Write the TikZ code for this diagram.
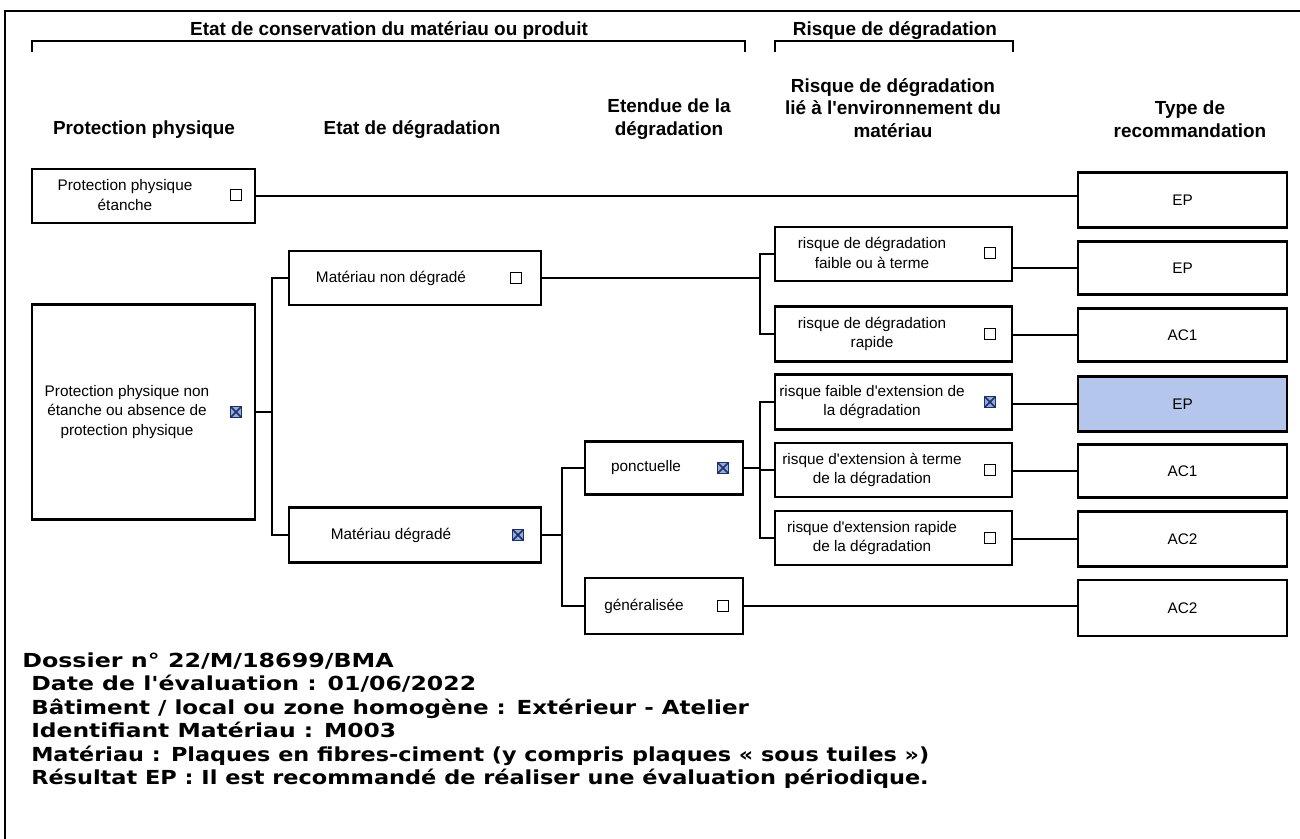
\documentclass[tikz,border=0pt]{standalone}
\usepackage{fontspec}
\setmainfont{Liberation Sans}
\newfontfamily\bottomfont{DejaVu Sans}
\definecolor{xnavy}{RGB}{28,48,110}
\definecolor{xfill}{RGB}{150,172,214}
\definecolor{hilite}{RGB}{180,198,236}
\newcommand\q{\textquotesingle}
\begin{document}
\begin{tikzpicture}[x=0.75pt,y=-0.75pt,
  bx/.style 2 args={draw, line width=1.8pt, inner sep=0pt, minimum width=#1*0.75pt, minimum height=#2*0.75pt},
  txt/.style={font=\fontsize{11.5}{14.5}\selectfont, align=center, inner sep=0pt},
  hdr/.style={font=\fontsize{14.2}{17}\selectfont\bfseries, align=center, inner sep=0pt},
  btxt/.style={font=\bottomfont\bfseries\fontsize{14.5}{17}\selectfont, anchor=base west, inner sep=0pt},
  chk/.style={draw, line width=1.1pt, minimum size=8pt, inner sep=0pt},
  xchk/.style={chk, draw=xnavy, fill=xfill, path picture={\draw[xnavy, line width=1.3pt] (path picture bounding box.south west) -- (path picture bounding box.north east) (path picture bounding box.north west) -- (path picture bounding box.south east);}},
  con/.style={line width=1.6pt},
  brk/.style={line width=1.6pt}
]
\useasboundingbox (0,0) rectangle (1300,839);
% frame
\draw[line width=1.4pt] (5,839) -- (5,11) -- (1300,11);
% group headers
\node[hdr] (g1) at (389,31) {Etat de conservation du matériau ou produit};
\node[hdr] (g2) at (895,31) {Risque de dégradation};
\draw[brk] (32,52) -- (32,41) -- (745,41) -- (745,52);
\draw[brk] (775,52) -- (775,41) -- (1013,41) -- (1013,52);
% column headers
\node[hdr] (h1) at (144,130) {Protection physique};
\node[hdr] (h2) at (412,130) {Etat de dégradation};
\node[hdr] (h3) at (669,119) {Etendue de la\\dégradation};
\node[hdr] (h4) at (893,108) {Risque de dégradation\\lié à l\q environnement du\\matériau};
\node[hdr] (h5) at (1190,119) {Type de\\recommandation};
% boxes
\node[bx={223}{54}] (ppe) at (143.5,196) {};
\node[bx={223}{215}] (ppn) at (143.5,412) {};
\node[bx={252}{54}] (mnd) at (415,278) {};
\node[bx={252}{55}] (md) at (415,535) {};
\node[bx={158}{53}] (pon) at (664,468) {};
\node[bx={158}{56}] (gen) at (664,606) {};
\node[bx={237}{54}] (r1) at (893.5,254) {};
\node[bx={237}{55}] (r2) at (893.5,334) {};
\node[bx={237}{55}] (r3) at (893.5,402) {};
\node[bx={237}{54}] (r4) at (893.5,470) {};
\node[bx={237}{54}] (r5) at (893.5,538) {};
\node[bx={209}{55}] (t1) at (1182.5,200) {};
\node[bx={209}{53}] (t2) at (1182.5,268) {};
\node[bx={209}{53}] (t3) at (1182.5,335) {};
\node[bx={209}{55}, fill=hilite] (t4) at (1182.5,404) {};
\node[bx={209}{53}] (t5) at (1182.5,471) {};
\node[bx={209}{55}] (t6) at (1182.5,539) {};
\node[bx={209}{56}] (t7) at (1182.5,608) {};
% box texts
\node[txt] (ppe-t) at (125,195) {Protection physique\\étanche};
\node[txt] (ppn-t) at (127,412) {Protection physique non\\étanche ou absence de\\protection physique};
\node[txt] (mnd-t) at (391,278) {Matériau non dégradé};
\node[txt] (md-t) at (391,535) {Matériau dégradé};
\node[txt] (pon-t) at (646,468) {ponctuelle};
\node[txt] (gen-t) at (644,606) {généralisée};
\node[txt] (r1-t) at (872,253) {risque de dégradation\\faible ou à terme};
\node[txt] (r2-t) at (872,334) {risque de dégradation\\rapide};
\node[txt] (r3-t) at (872,402) {risque faible d\q extension de\\la dégradation};
\node[txt] (r4-t) at (872,470) {risque d\q extension à terme\\de la dégradation};
\node[txt] (r5-t) at (872,538) {risque d\q extension rapide\\de la dégradation};
\node[txt] (t1-t) at (t1) {EP};
\node[txt] (t2-t) at (t2) {EP};
\node[txt] (t3-t) at (t3) {AC1};
\node[txt] (t4-t) at (t4) {EP};
\node[txt] (t5-t) at (t5) {AC1};
\node[txt] (t6-t) at (t6) {AC2};
\node[txt] (t7-t) at (t7) {AC2};
% checkboxes
\node[chk] (ppe-c) at (236,195) {};
\node[xchk] (ppn-c) at (236,412) {};
\node[chk] (mnd-c) at (516,278) {};
\node[xchk] (md-c) at (518,535) {};
\node[xchk] (pon-c) at (723,468) {};
\node[chk] (gen-c) at (723,606) {};
\node[chk] (r1-c) at (990,253) {};
\node[chk] (r2-c) at (990,334) {};
\node[xchk] (r3-c) at (990,402) {};
\node[chk] (r4-c) at (990,470) {};
\node[chk] (r5-c) at (990,538) {};
% junction columns
\coordinate (v1) at (272,0);
\coordinate (v2) at (562,0);
\coordinate (v3) at (760,0);
% connectors
\draw[con] (ppe.east) -- (ppe.east -| t1.west);
\draw[con] (ppn.east) -- (ppn.east -| v1);
\draw[con] (mnd.west) -- (mnd.west -| v1) -- (md.west -| v1) -- (md.west);
\draw[con] (mnd.east) -- (mnd.east -| v3);
\draw[con] (r1.west) -- (r1.west -| v3) -- (r2.west -| v3) -- (r2.west);
\draw[con] (md.east) -- (md.east -| v2);
\draw[con] (pon.west) -- (pon.west -| v2) -- (gen.west -| v2) -- (gen.west);
\draw[con] (pon.east) -- (pon.east -| v3);
\draw[con] (r3.west) -- (r3.west -| v3) -- (r5.west -| v3) -- (r5.west);
\draw[con] (r4.west -| v3) -- (r4.west);
\draw[con] (gen.east) -- (gen.east -| t7.west);
\draw[con] (r1.east |- t2.west) -- (t2.west);
\draw[con] (r2.east |- t3.west) -- (t3.west);
\draw[con] (r3.east |- t4.west) -- (t4.west);
\draw[con] (r4.east |- t5.west) -- (t5.west);
\draw[con] (r5.east |- t6.west) -- (t6.west);
% bottom text
\node[btxt] (b1) at (22,667) {\scalebox{1.23}[1]{Dossier n° 22/M/18699/BMA}};
\node[btxt] (b2) at (31,690.5) {\scalebox{1.22}[1]{Date de l\q évaluation : 01/06/2022}};
\node[btxt] (b3) at (31,714) {\scalebox{1.19}[1]{Bâtiment / local ou zone homogène : Extérieur - Atelier}};
\node[btxt] (b4) at (31,737.5) {\scalebox{1.21}[1]{Identifiant Matériau : M003}};
\node[btxt] (b5) at (31,761) {\scalebox{1.155}[1]{Matériau : Plaques en fibres-ciment (y compris plaques « sous tuiles »)}};
\node[btxt] (b6) at (31,784.5) {\scalebox{1.16}[1]{Résultat EP : Il est recommandé de réaliser une évaluation périodique.}};
\end{tikzpicture}
\end{document}
